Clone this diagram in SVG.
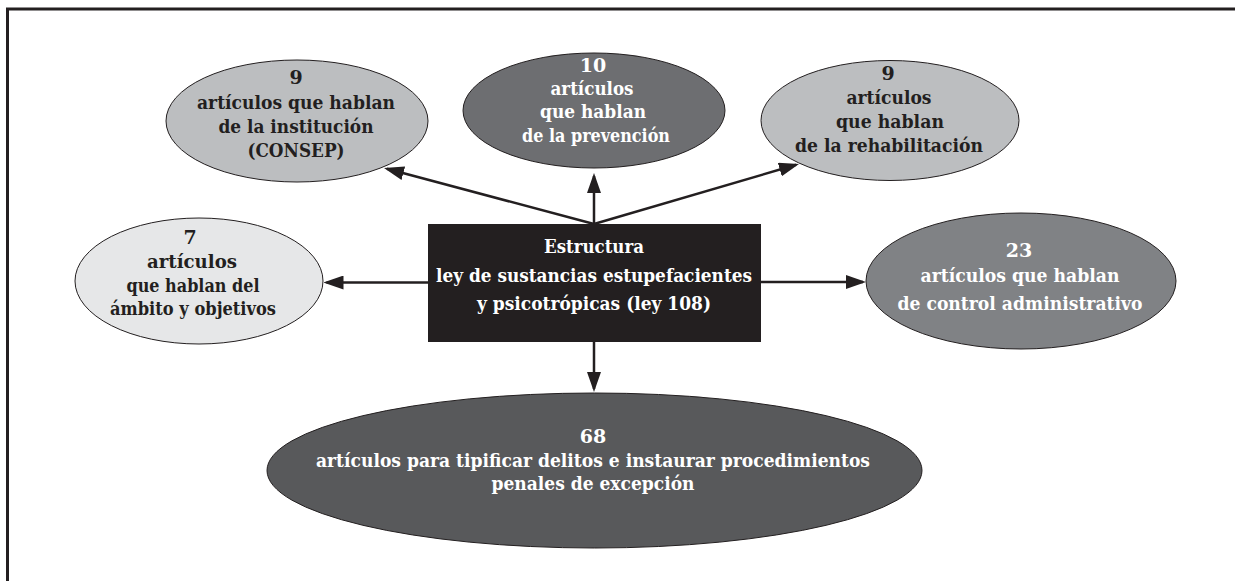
<svg xmlns="http://www.w3.org/2000/svg" width="1235" height="581" viewBox="0 0 1235 581">
  <style>
    .frame { fill: none; stroke: #231f20; stroke-width: 3; }
    .node ellipse { stroke: #231f20; stroke-width: 1; }
    .light1 { fill: #bcbec0; }
    .light2 { fill: #e6e7e8; }
    .mid1 { fill: #6d6e71; }
    .mid2 { fill: #808285; }
    .dark { fill: #58595b; }
    .box { fill: #231f20; }
    text { font-family: "DejaVu Serif", "Liberation Serif", serif; font-weight: bold; font-size: 19px; text-anchor: middle; }
    .tdark { fill: #231f20; }
    .tlight { fill: #ffffff; }
    .conn { fill: none; stroke: #231f20; stroke-width: 2.5; marker-end: url(#arrow); }
  </style>
  <defs>
    <marker id="arrow" markerUnits="userSpaceOnUse" markerWidth="20" markerHeight="14" viewBox="0 0 20 14" refX="17" refY="7" orient="auto">
      <path d="M0,0 L20,7 L0,14 z" fill="#231f20"/>
    </marker>
  </defs>

  <rect width="1235" height="581" fill="#ffffff"/>
  <path class="frame" d="M7.5,581 V9 H1235"/>

  <g id="connectors">
    <path class="conn" d="M594,224 L386.9,168.8"/>
    <path class="conn" d="M594,224 L594,176"/>
    <path class="conn" d="M594,224 L796.1,164.8"/>
    <path class="conn" d="M428,282.5 L326.5,282.5"/>
    <path class="conn" d="M761,282 L863,282"/>
    <path class="conn" d="M594,342 L594,389"/>
  </g>

  <g id="node-institucion" class="node">
    <ellipse class="light1" cx="297" cy="121" rx="131" ry="61"/>
    <text class="tdark" x="296" y="84">9</text>
    <text class="tdark" x="296" y="109" textLength="198" lengthAdjust="spacingAndGlyphs">artículos que hablan</text>
    <text class="tdark" x="296" y="133" textLength="155" lengthAdjust="spacingAndGlyphs">de la institución</text>
    <text class="tdark" x="296" y="157" textLength="97" lengthAdjust="spacingAndGlyphs">(CONSEP)</text>
  </g>

  <g id="node-prevencion" class="node">
    <ellipse class="mid1" cx="594" cy="110.5" rx="131" ry="57.5"/>
    <text class="tlight" x="593" y="72">10</text>
    <text class="tlight" x="592" y="95" textLength="83" lengthAdjust="spacingAndGlyphs">artículos</text>
    <text class="tlight" x="593" y="118" textLength="106" lengthAdjust="spacingAndGlyphs">que hablan</text>
    <text class="tlight" x="596" y="142" textLength="148" lengthAdjust="spacingAndGlyphs">de la prevención</text>
  </g>

  <g id="node-rehabilitacion" class="node">
    <ellipse class="light1" cx="890" cy="120.5" rx="129" ry="60"/>
    <text class="tdark" x="888" y="80">9</text>
    <text class="tdark" x="889" y="104" textLength="85" lengthAdjust="spacingAndGlyphs">artículos</text>
    <text class="tdark" x="890" y="128" textLength="108" lengthAdjust="spacingAndGlyphs">que hablan</text>
    <text class="tdark" x="889" y="152" textLength="188" lengthAdjust="spacingAndGlyphs">de la rehabilitación</text>
  </g>

  <g id="node-ambito" class="node">
    <ellipse class="light2" cx="199" cy="281" rx="124" ry="63"/>
    <text class="tdark" x="190" y="244">7</text>
    <text class="tdark" x="192" y="268" textLength="90" lengthAdjust="spacingAndGlyphs">artículos</text>
    <text class="tdark" x="193" y="292" textLength="133" lengthAdjust="spacingAndGlyphs">que hablan del</text>
    <text class="tdark" x="193" y="315" textLength="166" lengthAdjust="spacingAndGlyphs">ámbito y objetivos</text>
  </g>

  <g id="node-estructura">
    <rect class="box" x="428" y="224" width="333" height="118"/>
    <text class="tlight" x="594" y="253" textLength="100" lengthAdjust="spacingAndGlyphs">Estructura</text>
    <text class="tlight" x="594" y="282" textLength="316" lengthAdjust="spacingAndGlyphs">ley de sustancias estupefacientes</text>
    <text class="tlight" x="594" y="310" textLength="234" lengthAdjust="spacingAndGlyphs">y psicotrópicas (ley 108)</text>
  </g>

  <g id="node-control" class="node">
    <ellipse class="mid2" cx="1021" cy="281" rx="155" ry="68"/>
    <text class="tlight" x="1019" y="257">23</text>
    <text class="tlight" x="1020" y="282" textLength="199" lengthAdjust="spacingAndGlyphs">artículos que hablan</text>
    <text class="tlight" x="1020" y="310" textLength="245" lengthAdjust="spacingAndGlyphs">de control administrativo</text>
  </g>

  <g id="node-delitos" class="node">
    <ellipse class="dark" cx="594.5" cy="470.5" rx="327.5" ry="77.5"/>
    <text class="tlight" x="593" y="443">68</text>
    <text class="tlight" x="593" y="467" textLength="554" lengthAdjust="spacingAndGlyphs">artículos para tipificar delitos e instaurar procedimientos</text>
    <text class="tlight" x="593" y="490" textLength="203" lengthAdjust="spacingAndGlyphs">penales de excepción</text>
  </g>
</svg>
